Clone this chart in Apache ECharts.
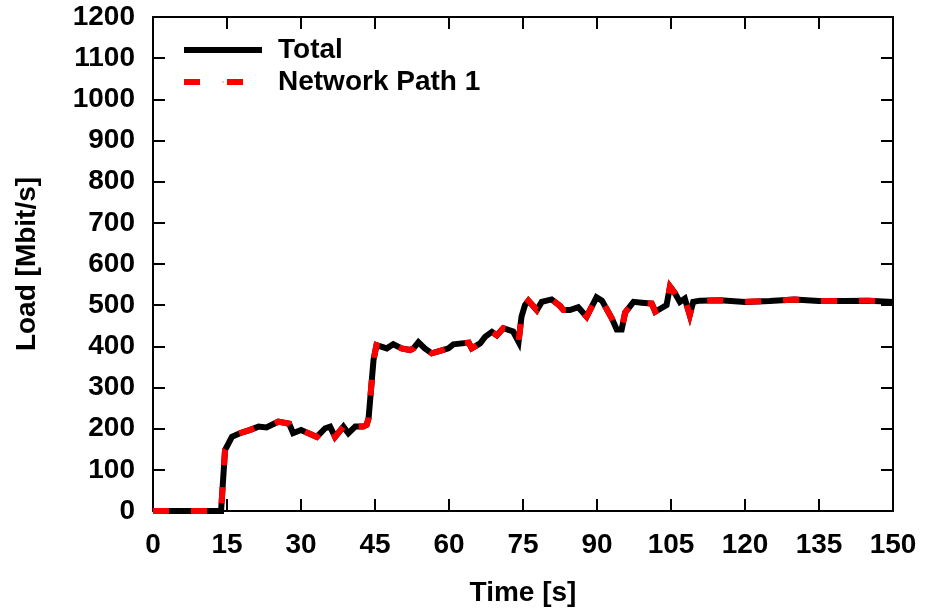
<!DOCTYPE html>
<html>
<head>
<meta charset="utf-8">
<script src="https://cdn.jsdelivr.net/npm/echarts@6/dist/echarts.min.js"></script>
<style>
  html, body { margin: 0; padding: 0; background: #fff; }
  #chart { width: 925px; height: 614px; }
</style>
</head>
<body>
<div id="chart"></div>
<script>
// Measurement times in seconds
const times = [
  0, 1, 2, 3, 4, 5, 6, 7, 8, 9, 10, 11, 12, 13, 13.8,
  14.6, 16, 17.6, 19.7, 21.4, 23, 24, 25.4, 27.6, 28.4,
  30, 32.2, 33.2, 34.9, 35.9, 36.9, 38.6, 39.6, 41, 42.6, 43.3, 43.7,
  44.7, 45.3, 47.4, 48.7, 50.4, 52.1, 52.8, 53.8, 55.1, 56.5, 58.2, 59.9,
  60.9, 64, 64.6, 66.3, 67.3, 68.7, 69.7, 71, 73, 74.1,
  74.7, 75.4, 76.1, 77.8, 78.8, 80.8, 82.5, 83.2, 84.5, 86.2, 87.9,
  89.9, 91, 93, 94, 95, 95.7, 97.4, 99.1, 101.1, 101.8,
  104.1, 104.8, 105.8, 106.8, 107.8, 108.8, 109.5, 110.9,
  115, 120, 125, 130, 135, 140, 145, 150
];

// Aggregate load over all paths [Mbit/s]
const total = [
  0, 0, 0, 0, 0, 0, 0, 0, 0, 0, 0, 0, 0, 0, 0,
  148, 180, 189, 197, 205, 203, 209, 217, 212, 189,
  197, 185, 180, 201, 205, 180, 205, 189, 205, 205, 209, 225,
  367, 403, 395, 405, 395, 391, 395, 410, 395, 383, 389, 395,
  405, 409, 395, 407, 423, 435, 427, 444, 436, 411,
  472, 500, 511, 488, 508, 514, 498, 488, 488, 495, 472,
  519, 511, 468, 441, 441, 482, 508, 506, 504, 484,
  500, 545, 529, 508, 516, 476, 508, 511,
  512, 508, 510, 514, 510, 510, 511, 508
];

// Load carried by network path 1 [Mbit/s]
const path1 = [
  0, 0, 0, 0, 0, 0, 0, 0, 0, 0, 0, 0, 0, 0, 0,
  148, 180, 189, 197, 205, 203, 209, 217, 212, 189,
  197, 185, 180, 201, 205, 180, 205, 189, 205, 205, 209, 225,
  367, 403, 395, 405, 395, 391, 395, 410, 395, 383, 389, 395,
  405, 409, 395, 407, 423, 435, 427, 444, 436, 411,
  472, 500, 511, 488, 508, 514, 498, 488, 488, 495, 472,
  519, 511, 468, 441, 441, 482, 508, 506, 504, 484,
  500, 545, 529, 508, 516, 476, 508, 511,
  512, 508, 510, 514, 510, 510, 511, 508
];

const xTicks = { min: 0, max: 150, step: 15 };
const yTicks = { min: 0, max: 1200, step: 100 };

const FONT = '"Liberation Sans", Arial, sans-serif';
const pair = (xs, ys) => xs.map((x, i) => [x, ys[i]]);

const tickStyle = { show: true, inside: true, length: 12, lineStyle: { color: '#000', width: 2 } };
const lineAxis = { show: true, onZero: false, lineStyle: { color: '#000', width: 2 } };
const labelStyle = { color: '#000', fontFamily: FONT, fontWeight: 'bold', fontSize: 28 };

// legend samples: solid bar for the total, dash-dot-dash for path 1
const ICON_SOLID = 'path://M0,0H78V6H0Z';
const ICON_DASHED = 'path://M0,0H16V6H0Z M38.5,2.5H39.5V3.5H38.5Z M43,0H59V6H43Z M78,0L78,6Z';

const chart = echarts.init(document.getElementById('chart'), null, { renderer: 'canvas' });
chart.setOption({
  animation: false,
  backgroundColor: '#fff',
  grid: { left: 153, right: 32, top: 17, bottom: 103, containLabel: false },
  legend: {
    left: 184, top: 34, orient: 'vertical', padding: 0,
    itemWidth: 78, itemHeight: 6, itemGap: 0,
    symbolKeepAspect: false,
    textStyle: { color: '#000', fontFamily: FONT, fontWeight: 'bold', fontSize: 28,
                 lineHeight: 32, padding: [0, 0, 0, 11] },
    data: [
      { name: 'Total', icon: ICON_SOLID, itemStyle: { color: '#000' } },
      { name: 'Network Path 1', icon: ICON_DASHED, itemStyle: { color: '#ff0000' } }
    ]
  },
  xAxis: [
    {
      type: 'value', position: 'bottom', min: xTicks.min, max: xTicks.max, interval: xTicks.step,
      name: 'Time [s]', nameLocation: 'middle', nameGap: 68,
      nameTextStyle: labelStyle,
      axisLine: lineAxis, axisTick: tickStyle,
      axisLabel: Object.assign({ margin: 20 }, labelStyle),
      splitLine: { show: false }
    },
    {
      type: 'value', position: 'top', min: xTicks.min, max: xTicks.max, interval: xTicks.step,
      axisLine: lineAxis, axisTick: tickStyle, axisLabel: { show: false }, splitLine: { show: false }
    }
  ],
  yAxis: [
    {
      type: 'value', position: 'left', min: yTicks.min, max: yTicks.max, interval: yTicks.step,
      name: 'Load [Mbit/s]', nameLocation: 'middle', nameGap: 112, nameRotate: 90,
      nameTextStyle: labelStyle,
      axisLine: lineAxis, axisTick: tickStyle,
      axisLabel: Object.assign({ margin: 18, formatter: v => String(v) }, labelStyle),
      splitLine: { show: false }
    },
    {
      type: 'value', position: 'right', min: yTicks.min, max: yTicks.max, interval: yTicks.step,
      axisLine: lineAxis, axisTick: tickStyle, axisLabel: { show: false }, splitLine: { show: false }
    }
  ],
  series: [
    {
      name: 'Total', type: 'line', data: pair(times, total),
      symbol: 'none', clip: true,
      itemStyle: { color: '#000' },
      lineStyle: { color: '#000', width: 6, join: 'miter' }
    },
    {
      name: 'Network Path 1', type: 'line', data: pair(times, path1),
      symbol: 'none', clip: true,
      itemStyle: { color: '#ff0000' },
      lineStyle: { color: '#ff0000', width: 6, type: [16, 22], cap: 'butt', join: 'miter' }
    }
  ]
});
</script>
</body>
</html>
